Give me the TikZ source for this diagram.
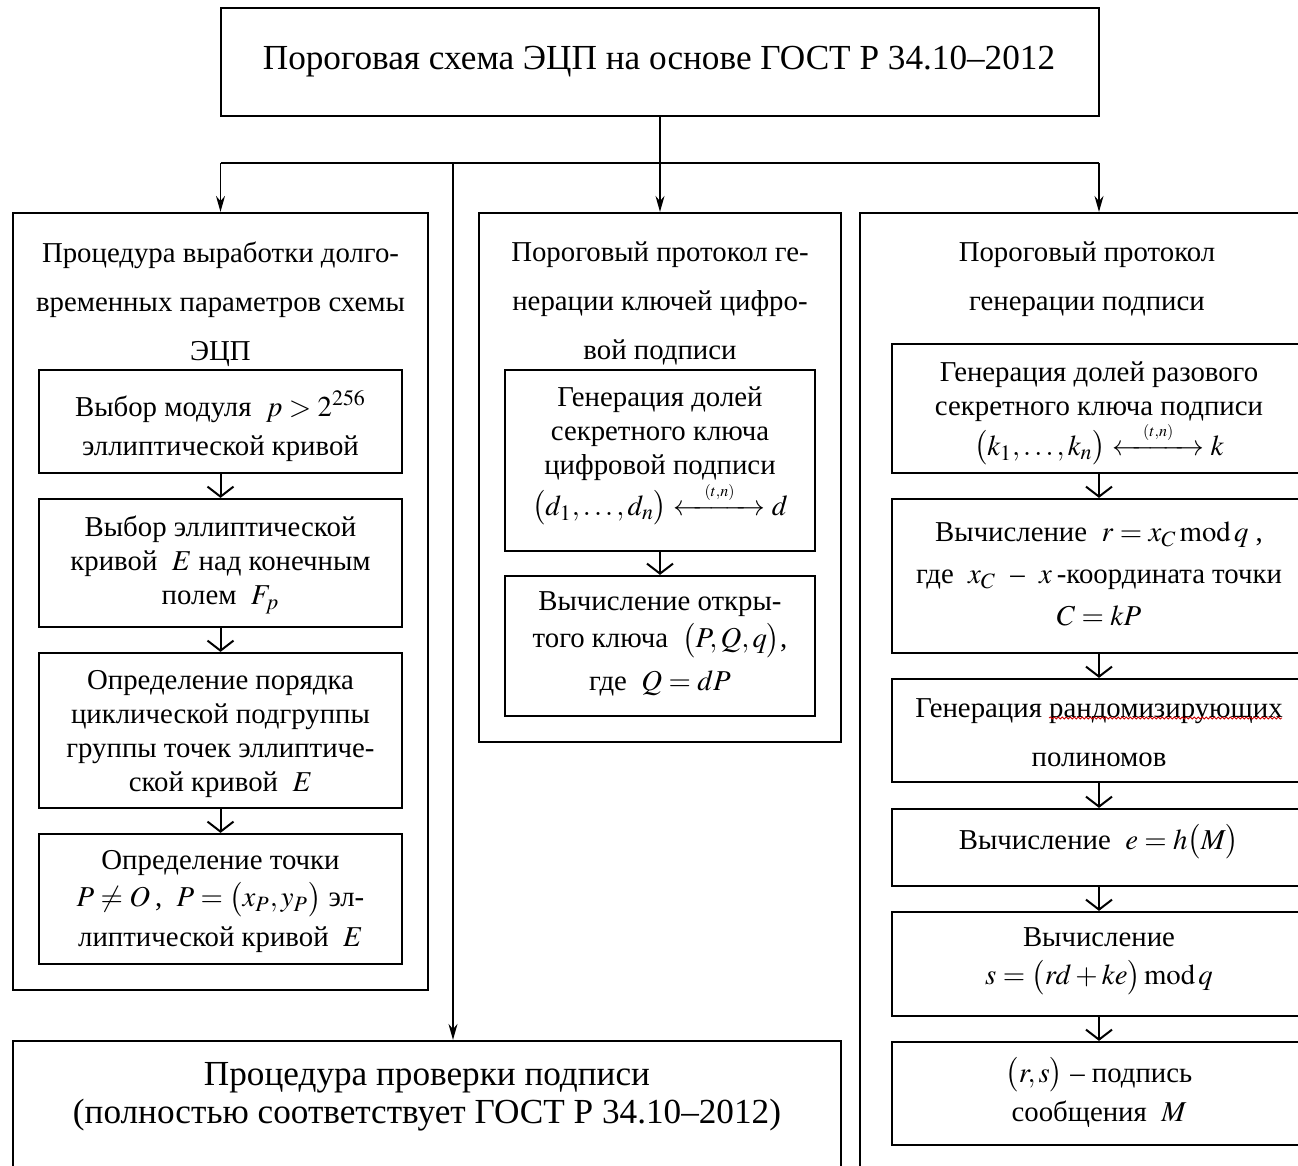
\documentclass[tikz,border=0pt]{standalone}
\usepackage{amsmath}
\usepackage{mathtools}
\usepackage{mathptmx}
\usepackage{fontspec}
\setmainfont{Liberation Serif}
\usetikzlibrary{arrows.meta,decorations.pathmorphing}
\newcommand\tnarrow{\mathrel{\overset{\smash{\raisebox{-3pt}{$\scriptscriptstyle(t,n)$}}}{\xleftrightarrow{\hspace{2.6em}}}}}
\tikzset{
  outerbox/.style={draw, line width=1.1pt, inner sep=0pt},
  innerbox/.style={draw, line width=1.1pt, inner sep=0pt},
  txt/.style={align=center, inner sep=0pt, font=\fontsize{14.4}{17}\selectfont},
  ttl/.style={align=center, inner sep=0pt, font=\fontsize{14.4}{24.5}\selectfont},
  big/.style={align=center, inner sep=0pt, font=\fontsize{17.6}{19}\selectfont},
  mainarr/.style={line width=0.7pt, -{Stealth[length=8pt,width=4.5pt]}},
  stepar/.style={line width=1pt, -{Straight Barb[length=5pt,width=13pt]}},
}
\begin{document}
\begin{tikzpicture}[x=0.5pt,y=-0.5pt]
\clip (0,0) rectangle (1298,1166);
% boxes
\node[outerbox, minimum width=439pt, minimum height=54pt] (top) at (660,62) {};
\node[outerbox, minimum width=207.5pt, minimum height=388.5pt] (L) at (220.5,601.5) {};
\node[outerbox, minimum width=181pt, minimum height=264.5pt] (M) at (660,477.5) {};
\node[outerbox, minimum width=239pt, minimum height=493.5pt] (R) at (1099,706.5) {};
\node[outerbox, minimum width=414pt, minimum height=79.5pt] (B) at (427,1120.5) {};
% left inner
\node[innerbox, minimum width=181.5pt, minimum height=51.5pt] (L1) at (220.5,421.5) {};
\node[innerbox, minimum width=181.5pt, minimum height=64pt] (L2) at (220.5,563) {};
\node[innerbox, minimum width=181.5pt, minimum height=77.5pt] (L3) at (220.5,730.5) {};
\node[innerbox, minimum width=181.5pt, minimum height=65pt] (L4) at (220.5,899) {};
% middle inner
\node[innerbox, minimum width=155pt, minimum height=90.5pt] (M1) at (660,460.5) {};
\node[innerbox, minimum width=155pt, minimum height=70pt] (M2) at (660,646) {};
% right inner
\node[innerbox, minimum width=207pt, minimum height=64.5pt] (R1) at (1099,408.5) {};
\node[innerbox, minimum width=207pt, minimum height=77pt] (R2) at (1099,576) {};
\node[innerbox, minimum width=207pt, minimum height=51.5pt] (R3) at (1099,730.5) {};
\node[innerbox, minimum width=207pt, minimum height=38.5pt] (R4) at (1099,847.5) {};
\node[innerbox, minimum width=207pt, minimum height=52pt] (R5) at (1099,964) {};
\node[innerbox, minimum width=207pt, minimum height=51.5pt] (R6) at (1099,1093.5) {};
% texts
\node[big] (toptxt) at (659,62) {Пороговая схема ЭЦП на основе ГОСТ Р 34.10–2012};
\node[big] (Btxt) at (427,1097) {Процедура проверки подписи\\(полностью соответствует ГОСТ Р 34.10–2012)};
\node[ttl] (Ltit) at (220.5,304) {Процедура выработки долго-\\временных параметров схемы\\ЭЦП};
\node[ttl] (Mtit) at (660,303) {Пороговый протокол ге-\\нерации ключей цифро-\\вой подписи};
\node[ttl] (Rtit) at (1087,279) {Пороговый протокол\\генерации подписи};
\node[txt] (L1t) at (220.5,426) {Выбор модуля~ $p>2^{256}$\\[2.5pt]эллиптической кривой};
\node[txt] (L2t) at (220.5,565) {Выбор эллиптической\\кривой~ $E$ над конечным\\полем~ $F_p$};
\node[txt] (L3t) at (220.5,734) {Определение порядка\\циклической подгруппы\\группы точек эллиптиче-\\ской кривой~ $E$};
\node[txt] (L4t) at (220.5,902) {Определение точки\\[1.5pt]$P\neq O$\,,~ $P=\bigl(x_P,y_P\bigr)$ эл-\\[3pt]липтической кривой~ $E$};
\node[txt] (M1t) at (660,456) {Генерация долей\\секретного ключа\\цифровой подписи\\[3.5pt]$\bigl(d_1,\ldots,d_n\bigr)\tnarrow d$};
\node[txt] (M2t) at (660,644) {Вычисление откры-\\[1.5pt]того ключа~ $\bigl(P,Q,q\bigr)$,\\[4.5pt]где~ $Q=dP$};
\node[txt] (R1t) at (1099,413.5) {Генерация долей разового\\секретного ключа подписи\\[3pt]$\bigl(k_1,\ldots,k_n\bigr)\tnarrow k$};
\node[txt, font=\fontsize{14.4}{21}\selectfont] (R2t) at (1099,574) {Вычисление~ $r=x_C\operatorname{mod}q$ ,\\где~ $x_C$~ –~ $x$\,-координата точки\\$C=kP$};
\node[ttl] (R3t) at (1099,732.5) {Генерация рандомизирующих\\полиномов};
\node[txt] (R4t) at (1099,842) {Вычисление~ $e=h\bigl(M\bigr)$};
\node[txt, font=\fontsize{14.4}{19}\selectfont] (R5t) at (1099,961) {Вычисление\\$s=\bigl(rd+ke\bigr)\operatorname{mod}q$};
\node[txt, font=\fontsize{14.4}{19.5}\selectfont] (R6t) at (1099,1092.5) {$\bigl(r,s\bigr)$ – подпись\\сообщения~ $M$};
% spell-check underline
\draw[red!80!black, line width=0.4pt, decorate, decoration={snake, amplitude=0.5pt, segment length=2pt}] (1049,718) -- (1282,718);
% main connectors
\coordinate (hb) at (660,163);
\coordinate (vb) at (453,163);
\draw[mainarr] (top.south) -- (M.north);
\draw[line width=0.7pt] (L.north |- hb) -- (R.north |- hb);
\draw[mainarr] (L.north |- hb) -- (L.north);
\draw[mainarr] (R.north |- hb) -- (R.north);
\draw[mainarr] (vb) -- (vb |- B.north);
% inner steps
\draw[stepar] (L1) -- (L2);
\draw[stepar] (L2) -- (L3);
\draw[stepar] (L3) -- (L4);
\draw[stepar] (M1) -- (M2);
\draw[stepar] (R1) -- (R2);
\draw[stepar] (R2) -- (R3);
\draw[stepar] (R3) -- (R4);
\draw[stepar] (R4) -- (R5);
\draw[stepar] (R5) -- (R6);
\end{tikzpicture}
\end{document}
